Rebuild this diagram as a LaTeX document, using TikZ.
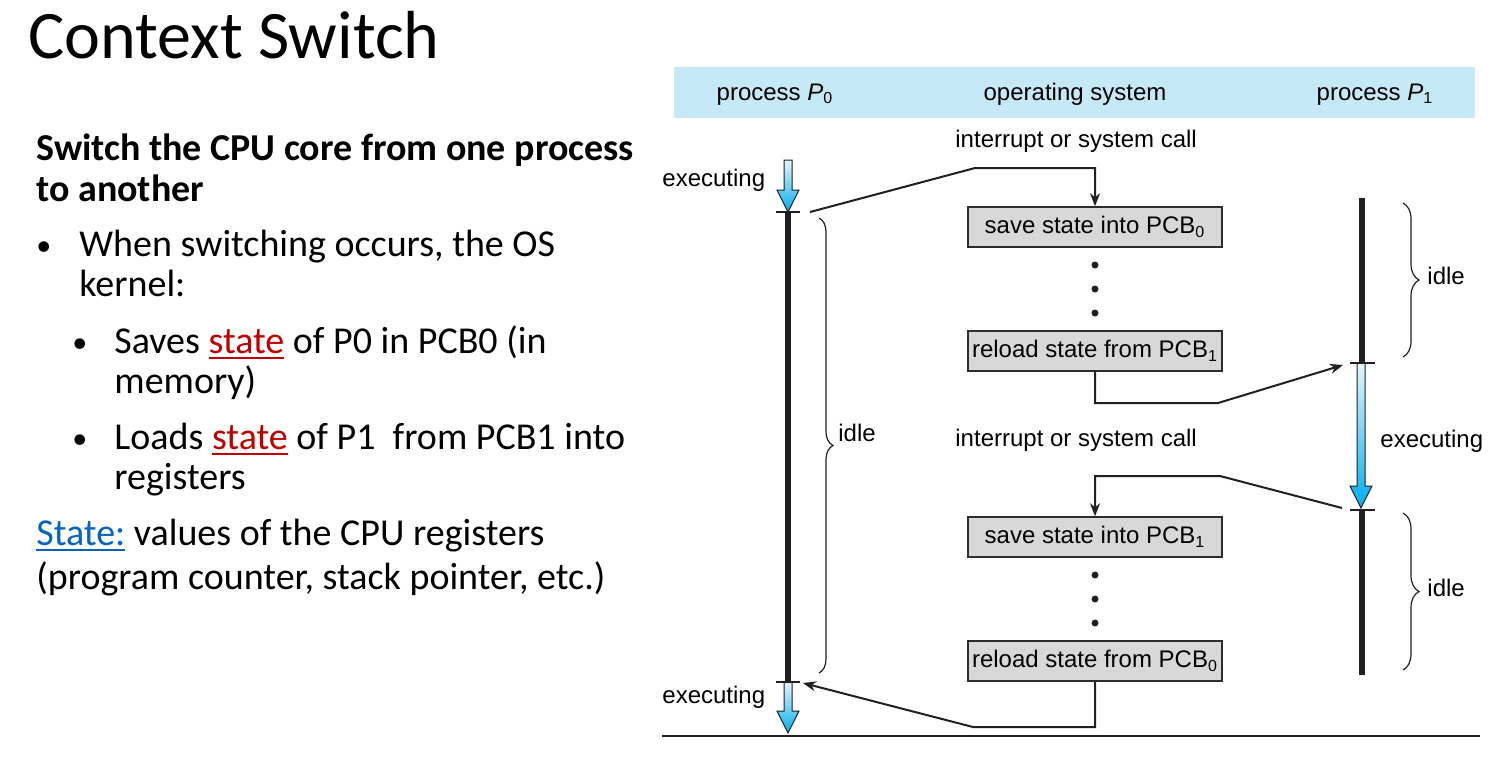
\documentclass[tikz,border=0pt]{standalone}
\usepackage{fontspec}
\setmainfont{Carlito}
\newfontfamily\arialf{Liberation Sans}
\usetikzlibrary{arrows.meta,decorations.pathreplacing}
\definecolor{hdrblue}{RGB}{198,233,248}
\definecolor{boxgray}{RGB}{216,216,216}
\definecolor{boxedge}{RGB}{45,45,45}
\definecolor{linek}{RGB}{35,31,32}
\definecolor{execlight}{RGB}{228,244,252}
\definecolor{execdark}{RGB}{0,174,239}
\definecolor{statered}{RGB}{192,0,0}
\definecolor{stateblue}{RGB}{5,99,193}
\newcommand\myul[1]{\setbox0\hbox{#1}\rlap{\rule[-3pt]{\wd0}{0.9pt}}\box0}
\newcommand\execarrowshape[3]{%
  \shade[top color=execlight,bottom color=execdark,draw=linek,line width=0.5pt]
    (#1-4,#2) -- (#1+4,#2) -- (#1+4,#3-22) -- (#1+11,#3-22) -- (#1,#3)
    -- (#1-11,#3-22) -- (#1-4,#3-22) -- cycle;}
\begin{document}
\begin{tikzpicture}[x=0.5pt,y=-0.5pt,
  txt/.style={anchor=base west,inner sep=0pt,font=\fontsize{19}{23}\selectfont},
  bul/.style={anchor=base west,inner sep=0pt,font=\fontsize{15}{17}\selectfont},
  ttl/.style={anchor=base west,inner sep=0pt,font=\fontsize{34}{40}\selectfont},
  lbl/.style={inner sep=0pt,font=\arialf\fontsize{12}{14}\selectfont},
  lblw/.style={lbl,anchor=base west},
  pcbbox/.style={draw=boxedge,fill=boxgray,line width=0.8pt,minimum width=127pt,
    minimum height=20pt,inner sep=0pt,font=\arialf\fontsize{12}{14}\selectfont},
  conn/.style={draw=linek,line width=1pt},
  connarr/.style={conn,-{Stealth[length=6.5pt,width=5pt]}},
  timeline/.style={draw=linek,line width=3pt},
  tick/.style={draw=linek,line width=0.7pt},
  idlebrace/.style={draw=linek,line width=0.6pt,decorate,decoration={brace,amplitude=#1}},
  dot/.style={fill=linek}
]
\useasboundingbox (0,0) rectangle (1497,757);

% ---------- left text ----------
\node[ttl] (title) at (28,58) {Context Switch};
\node[txt,font=\fontsize{19}{23}\selectfont\bfseries] (h1) at (36,160) {Switch the CPU core from one process};
\node[txt,font=\fontsize{19}{23}\selectfont\bfseries] (h2) at (36,201) {to another};
\node[bul] (b1) at (36,255) {•};
\node[txt] (l1) at (79,256) {When switching occurs, the OS};
\node[txt] (l2) at (79,296) {kernel:};
\node[bul] (b2) at (72,352) {•};
\node[txt] (l3) at (114,353) {Saves \textcolor{statered}{\myul{state}} of P0 in PCB0 (in};
\node[txt] (l4) at (114,393) {memory)};
\node[bul] (b3) at (72,448) {•};
\node[txt] (l5) at (114,449) {Loads \textcolor{statered}{\myul{state}} of P1\ \ from PCB1 into};
\node[txt] (l6) at (114,489) {registers};
\node[txt] (l7) at (36,545) {\textcolor{stateblue}{\myul{State:}} values of the CPU registers};
\node[txt] (l8) at (36,589) {(program counter, stack pointer, etc.)};

% ---------- header band ----------
\fill[hdrblue] (674,67) rectangle (1475,118);
\node[lbl,anchor=base] (hp0) at (775,100) {process \textit{P}\textsubscript{0}};
\node[lbl,anchor=base] (hos) at (1075,100) {operating system};
\node[lbl,anchor=base] (hp1) at (1375,100) {process \textit{P}\textsubscript{1}};

% ---------- OS boxes ----------
\node[pcbbox] (s0) at (1095,227) {save state into PCB\textsubscript{0}};
\node[pcbbox] (r1) at (1095,351) {reload state from PCB\textsubscript{1}};
\node[pcbbox] (s1) at (1095,537) {save state into PCB\textsubscript{1}};
\node[pcbbox] (r0) at (1095,661) {reload state from PCB\textsubscript{0}};
\foreach \yy in {265,289,313,575,599,623} \fill[dot] (1095,\yy) circle (3.5);

\node[lblw] (int1) at (955,147) {interrupt or system call};
\node[lblw] (int2) at (955,446) {interrupt or system call};

% ---------- process P0 timeline ----------
\execarrowshape{788}{160}{212}
\draw[timeline] (788,212) -- (788,682);
\execarrowshape{788}{682}{733}
\draw[tick] (776,212) -- (800,212);
\draw[tick] (776,682) -- (800,682);
\node[lblw] (ex0a) at (662,186) {executing};
\node[lblw] (ex0b) at (662,703) {executing};
\draw[idlebrace=7pt] (819,218) -- (819,673);
\node[lblw] (idle0) at (838,441) {idle};

% ---------- process P1 timeline ----------
\draw[timeline] (1362,198) -- (1362,363);
\execarrowshape{1361}{363}{508}
\draw[timeline] (1362,510) -- (1362,675);
\draw[tick] (1350,363) -- (1375,363);
\draw[tick] (1350,510) -- (1375,510);
\node[lblw] (ex1) at (1380,447) {executing};
\draw[idlebrace=8pt] (1403,203) -- (1403,357);
\node[lblw] (idle1a) at (1427,284) {idle};
\draw[idlebrace=8pt] (1403,513) -- (1403,670);
\node[lblw] (idle1b) at (1427,596) {idle};

% ---------- connectors ----------
\coordinate (p0stop) at (810,212);
\coordinate (p1start) at (1343,365);
\coordinate (p1stop) at (1342,508);
\coordinate (p0start) at (803,683);
\draw[connarr] (p0stop) -- (975,168) -| (s0.north);
\draw[connarr] (r1.south) |- (1218,403) -- (p1start);
\draw[connarr] (p1stop) -- (1220,476) -| (s1.north);
\draw[connarr] (r0.south) |- (973,727) -- (p0start);

% ---------- bottom rule ----------
\draw[draw=linek,line width=1pt] (662,736) -- (1480,736);
\end{tikzpicture}
\end{document}
